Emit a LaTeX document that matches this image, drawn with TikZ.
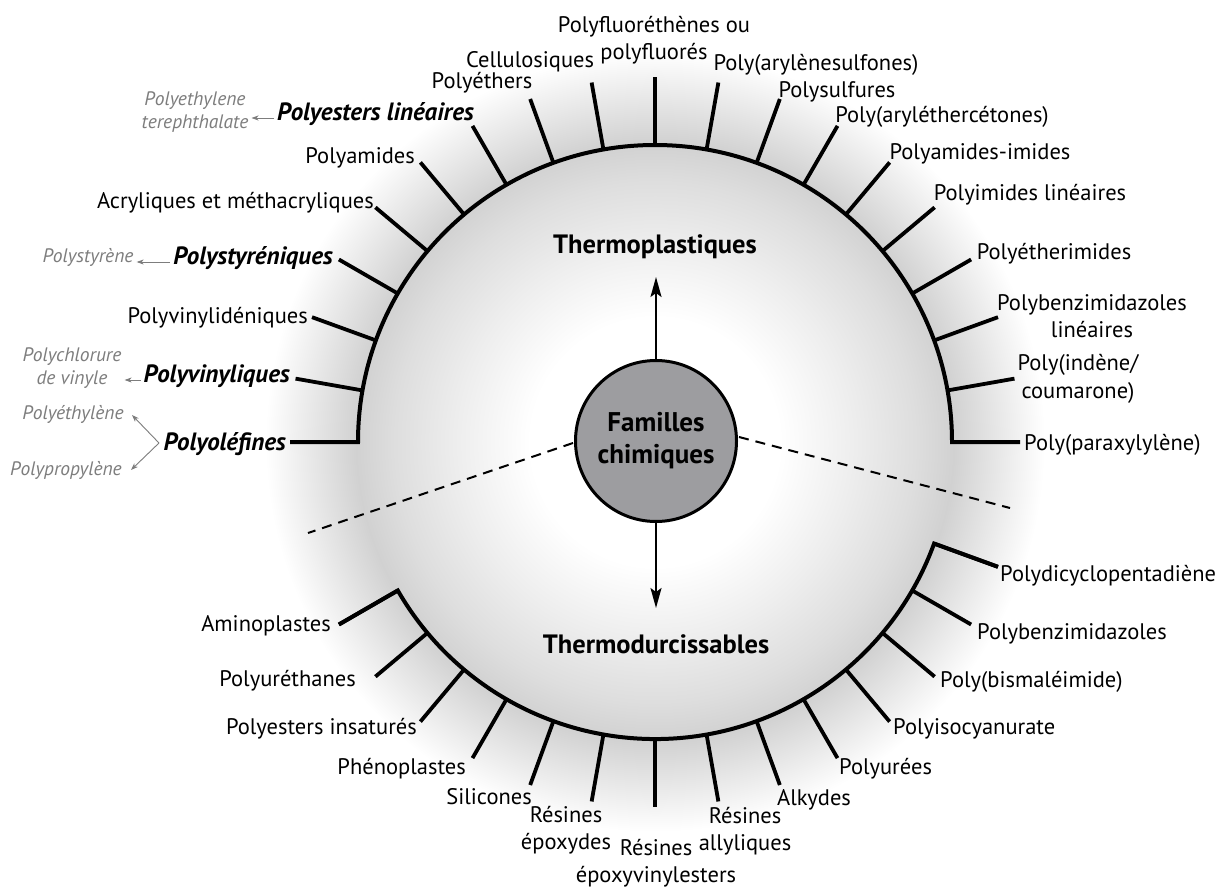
\documentclass[tikz,border=0pt]{standalone}
\usepackage{fontspec}
\setmainfont{PT Sans}
\usetikzlibrary{arrows.meta}
\definecolor{gtext}{RGB}{125,125,125}
\definecolor{famfill}{RGB}{157,157,160}
\definecolor{rA}{gray}{0.93}
\definecolor{rB}{gray}{0.87}
\definecolor{rC}{gray}{0.82}
\definecolor{rD}{gray}{0.90}
% circle of radius 420pt <-> 25bp ; 1bp = 16.8pt
\pgfdeclareradialshading{ringshade}{\pgfpoint{0bp}{0bp}}{color(0bp)=(white); color(7.4bp)=(white); color(11.9bp)=(rA); color(15.5bp)=(rB); color(17.8bp)=(rC); color(20.2bp)=(rD); color(23.2bp)=(white); color(50bp)=(white)}
\begin{document}
\begin{tikzpicture}[x=1pt,y=-1pt,
  lbl/.style={inner sep=0pt,font=\fontsize{22.5}{27.5}\selectfont},
  lbltwo/.style={inner sep=0pt,font=\fontsize{22.5}{27.5}\selectfont,align=center},
  bi/.style={inner sep=0pt,font=\fontsize{25}{28}\selectfont\bfseries\itshape},
  gi/.style={inner sep=0pt,font=\fontsize{19.5}{23.5}\selectfont\itshape,text=gtext,align=center},
  hd/.style={inner sep=0pt,font=\fontsize{26.5}{32}\selectfont\bfseries,align=center},
  arcline/.style={line width=4pt,line join=miter},
  tickline/.style={line width=3.8pt},
  dashline/.style={line width=2pt,dash pattern=on 10pt off 7pt},
  arr/.style={line width=2pt,-{Stealth[length=20pt,width=11pt,inset=4pt]}},
  garr/.style={line width=0.9pt,draw=gtext,shorten <=3pt,shorten >=3pt,-{Stealth[length=7pt,width=5pt,inset=2pt]}},
]
\useasboundingbox (0,0) rectangle (1223,891);
\fill[white] (0,0) rectangle (1223,891);
\shade[shading=ringshade] (655,442) circle[radius=420];

% dashed separators
\coordinate (dls) at (573,443); \coordinate (dle) at (308,533);
\coordinate (drs) at (739,437); \coordinate (dre) at (1010,508);
\draw[dashline] (dls) -- (dle);
\draw[dashline] (drs) -- (dre);

% upper arc and ticks
\foreach \a in {0,10,...,180}{
  \coordinate (ui\a) at ({655+297*cos(\a)},{442-297*sin(\a)});
  \coordinate (uo\a) at ({655+365*cos(\a)},{442-365*sin(\a)});
  \draw[tickline] (ui\a) -- (uo\a);
}
\draw[arcline] (uo180) -- (ui180) arc[start angle=-180,end angle=0,radius=297] -- (uo0);

% lower arc and ticks
\foreach \a in {210,220,...,340}{
  \coordinate (li\a) at ({655+297*cos(\a)},{442-297*sin(\a)});
  \coordinate (lo\a) at ({655+365*cos(\a)},{442-365*sin(\a)});
  \draw[tickline] (li\a) -- (lo\a);
}
\draw[arcline] (lo210) -- (li210) arc[start angle=-210,end angle=-340,radius=297] -- (lo340);

% centre
\node[hd,font=\fontsize{27}{32}\selectfont\bfseries,circle,draw,line width=3pt,fill=famfill,minimum size=161pt] (fam) at (656,441) {Familles\\chimiques};
\coordinate (tpt) at (656,277);
\coordinate (tdt) at (656,608);
\draw[arr] (fam.north) -- (tpt);
\draw[arr] (fam.south) -- (tdt);
\node[hd] (tp) at (655,247) {Thermoplastiques};
\node[hd] (td) at (656,644) {Thermodurcissables};

% upper labels
\node[bi,anchor=mid east] (olef) at (286,448) {Polyoléfines};
\node[bi,anchor=mid east] (vinyl) at (290,380) {Polyvinyliques};
\node[lbl,anchor=mid east] (vinylid) at (308,321) {Polyvinylidéniques};
\node[bi,anchor=mid east] (styr) at (333,262) {Polystyréniques};
\node[lbl,anchor=mid east] (acry) at (374,206) {Acryliques et méthacryliques};
\node[lbl,anchor=mid east] (pamid) at (415,161) {Polyamides};
\node[bi,anchor=mid east] (pest) at (474,118) {Polyesters linéaires};
\node[lbl,anchor=mid] (peth) at (482,86) {Polyéthers};
\node[lbl,anchor=mid] (cell) at (530,65) {Cellulosiques};
\node[lbltwo] (pfluo) at (654,40) {Polyfluoréthènes ou\\polyfluorés};
\node[lbl,anchor=mid] (pasul) at (816,68) {Poly(arylènesulfones)};
\node[lbl,anchor=mid] (psulf) at (837,95) {Polysulfures};
\node[lbl,anchor=mid] (paek) at (942,120) {Poly(aryléthercétones)};
\node[lbl,anchor=mid] (pai) at (980,157) {Polyamides-imides};
\node[lbl,anchor=mid] (pil) at (1030,198) {Polyimides linéaires};
\node[lbl,anchor=mid] (pei) at (1054,257) {Polyétherimides};
\node[lbltwo] (pbil) at (1092,316) {Polybenzimidazoles\\linéaires};
\node[lbltwo] (pic) at (1078,379) {Poly(indène/\\coumarone)};
\node[lbl,anchor=mid west] (ppx) at (1024,448) {Poly(paraxylylène)};

% grey examples
\node[gi] (pet) at (195,112) {Polyethylene\\terephthalate};
\draw[garr] (pest.mid west) -- (pest.mid west -| pet.east);
\node[gi,anchor=mid] (pst) at (88,260) {Polystyrène};
\draw[garr] (styr.mid west) -- (styr.mid west -| pst.east);
\node[gi] (pvc) at (72,368) {Polychlorure\\de vinyle};
\draw[garr] (vinyl.mid west) -- (vinyl.mid west -| pvc.east);
\node[gi,anchor=mid] (pe) at (73,417) {Polyéthylène};
\node[gi,anchor=mid] (pp) at (66,473) {Polypropylène};
\coordinate (bv) at (159,443);
\coordinate (pet1) at (132,415);
\coordinate (ppt1) at (131,470);
\draw[garr,shorten <=0pt,shorten >=0pt] (bv) -- (pet1);
\draw[garr,shorten <=0pt,shorten >=0pt] (bv) -- (ppt1);

% lower labels
\node[lbl,anchor=mid east] (amino) at (331,629) {Aminoplastes};
\node[lbl,anchor=mid east] (pur) at (356,684) {Polyuréthanes};
\node[lbl,anchor=mid east] (upe) at (417,732) {Polyesters insaturés};
\node[lbl,anchor=mid east] (pheno) at (466,772) {Phénoplastes};
\node[lbl,anchor=mid east] (sili) at (532,802) {Silicones};
\node[lbltwo] (repo) at (566,830) {Résines\\époxydes};
\node[lbltwo] (revin) at (656,863) {Résines\\époxyvinylesters};
\node[lbltwo] (rall) at (745,831) {Résines\\allyliques};
\node[lbl,anchor=mid] (alk) at (814,803) {Alkydes};
\node[lbl,anchor=mid west] (purea) at (839,772) {Polyurées};
\node[lbl,anchor=mid west] (pisoc) at (893,732) {Polyisocyanurate};
\node[lbl,anchor=mid west] (pbmi) at (940,685) {Poly(bismaléimide)};
\node[lbl,anchor=mid west] (pbi) at (977,637) {Polybenzimidazoles};
\node[lbl,anchor=mid west] (pdcpd) at (1000,579) {Polydicyclopentadiène};
\end{tikzpicture}
\end{document}
